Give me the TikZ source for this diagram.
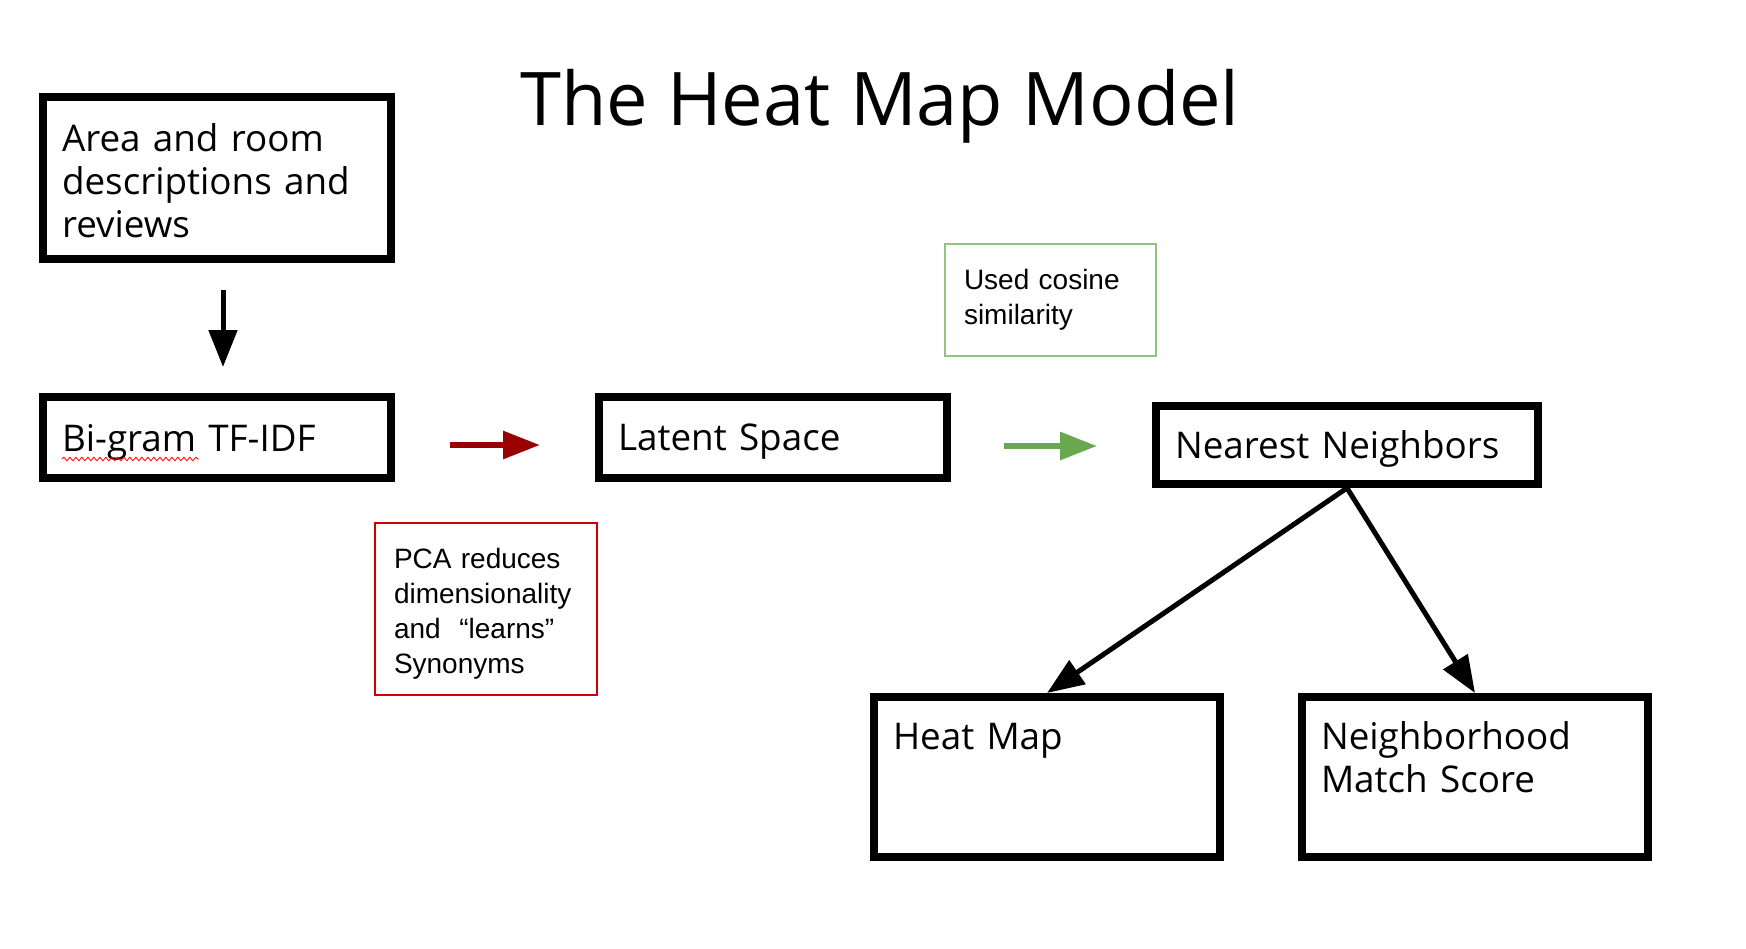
\documentclass[tikz,border=0pt]{standalone}
\usepackage{fontspec}
\setmainfont{Open Sans}
\newfontfamily\arialf{Liberation Sans}
\usetikzlibrary{arrows.meta,decorations.pathmorphing}
\definecolor{arrred}{HTML}{990000}
\definecolor{boxred}{HTML}{CC0000}
\definecolor{arrgreen}{HTML}{6AA84F}
\definecolor{boxgreen}{HTML}{93C47D}
\tikzset{
  mbox/.style={draw, line width=4pt, inner xsep=9.5pt, inner ysep=0pt, align=left,
    font=\fontsize{18.4pt}{21.5pt}\selectfont},
  nbox/.style={draw, line width=1pt, inner xsep=9.5pt, inner ysep=0pt, align=left,
    font=\arialf\fontsize{14pt}{17.5pt}\selectfont},
  blk/.style={line width=2.5pt, -{Triangle[width=14pt,length=18.5pt]}},
  redarr/.style={arrred, line width=3pt, -{Triangle[width=13.5pt,length=18.5pt]}},
  grnarr/.style={arrgreen, line width=3pt, -{Triangle[width=13.5pt,length=18.5pt]}},
}
\begin{document}
\begin{tikzpicture}[x=0.5pt,y=-0.5pt]
\useasboundingbox[fill=white] (0,0) rectangle (1746,948);
\node[anchor=base, font=\fontsize{37pt}{40pt}\selectfont] (title) at (880,125) {The Heat Map Model};

\node[mbox, text width=155pt, text height=27pt, text depth=54pt] (src) at (217,178)
  {Area and room\\descriptions and\\reviews};
\node[mbox, text width=155pt, text height=27pt, text depth=13.5pt] (tfidf) at (217,437.5)
  {Bi-gram TF-IDF};
\node[mbox, text width=155pt, text height=26.5pt, text depth=14pt] (latent) at (773,437.5)
  {Latent Space};
\node[mbox, text width=172pt, text height=26pt, text depth=13pt] (nn) at (1347,445)
  {Nearest Neighbors};
\node[mbox, text width=154pt, text height=26pt, text depth=54pt] (heat) at (1047,777)
  {Heat Map};
\node[mbox, text width=154pt, text height=26pt, text depth=54pt] (nms) at (1475,777)
  {Neighborhood\\Match Score};

\node[nbox, draw=boxgreen, text width=86.5pt, text height=22.5pt, text depth=33.5pt] (cos) at (1050.5,300)
  {Used cosine\\similarity};
\node[nbox, draw=boxred, text width=92pt, text height=22.5pt, text depth=63.5pt] (pca) at (486,609)
  {PCA reduces\\dimensionality\\and~ “learns”\\Synonyms};

% spell-check underline
\draw[red, line width=0.4pt, decorate, decoration={snake, amplitude=0.9pt, segment length=3pt}]
  (62,459) -- (199,459);

\draw[blk] ([xshift=3pt,yshift=-13.5pt]src.south) -- ([xshift=3pt,yshift=13pt]tfidf.north);
\draw[redarr] ([xshift=27.5pt,yshift=-3.75pt]tfidf.east) -- ([xshift=-27.5pt,yshift=-3.75pt]latent.west);
\draw[grnarr] ([xshift=26.5pt,yshift=-4.25pt]latent.east) -- ([xshift=-27.5pt,yshift=-0.5pt]nn.west);
\draw[blk] (nn.south) -- (heat.north);
\draw[blk] (nn.south) -- (nms.north);
\end{tikzpicture}
\end{document}
